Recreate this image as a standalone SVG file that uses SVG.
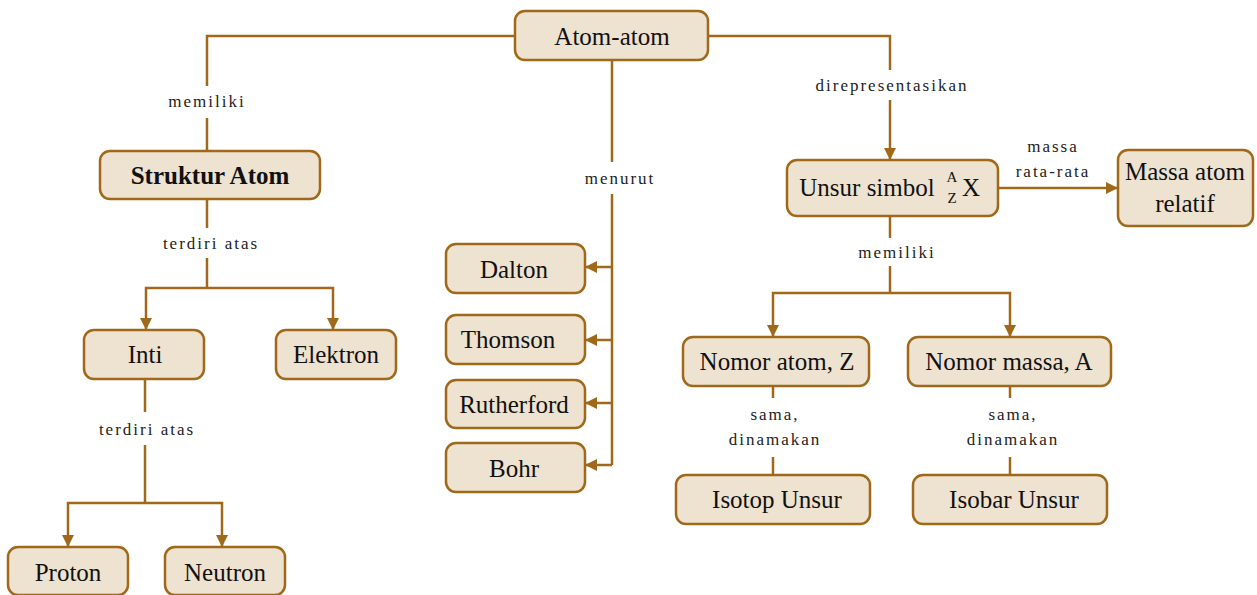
<svg xmlns="http://www.w3.org/2000/svg" width="1257" height="595" viewBox="0 0 1257 595">
<defs>
<marker id="ah" viewBox="0 0 12 12" refX="11" refY="6" markerWidth="12" markerHeight="12" markerUnits="userSpaceOnUse" orient="auto">
<path d="M0,0 L12,6 L0,12 Z" fill="#A0691A"/>
</marker>
<style>
.box{fill:#EEE2D0;stroke:#A0691A;stroke-width:2.5}
.t{font-size:25px;fill:#111;text-anchor:middle}
.b{font-weight:bold}
.l{font-size:17px;fill:#222;text-anchor:middle;letter-spacing:2px}
.c{fill:none;stroke:#A0691A;stroke-width:2.5}
.a{marker-end:url(#ah)}
.s{font-size:15px;fill:#111;text-anchor:middle}
</style>
</defs>
<rect width="1257" height="595" fill="#fff"/>
<g id="connectors">
<path class="c" d="M515,36 H207 V86"/>
<path class="c" d="M207,118 V150"/>
<path class="c" d="M708,36 H890 V70"/>
<path class="c a" d="M890,100 V159"/>
<path class="c" d="M612,60 V162"/>
<path class="c" d="M612,194 V465"/>
<path class="c a" d="M612,267 H586"/>
<path class="c a" d="M612,340 H586"/>
<path class="c a" d="M612,403 H586"/>
<path class="c a" d="M612,465 H586"/>
<path class="c" d="M207,199 V228"/>
<path class="c" d="M207,258 V288"/>
<path class="c a" d="M207,288 H146 V329"/>
<path class="c a" d="M207,288 H333 V329"/>
<path class="c" d="M145,379 V412"/>
<path class="c" d="M145,445 V503"/>
<path class="c a" d="M145,503 H68 V546"/>
<path class="c a" d="M145,503 H222 V546"/>
<path class="c a" d="M998,188 H1117"/>
<path class="c" d="M890,216 V238"/>
<path class="c" d="M890,266 V293"/>
<path class="c a" d="M890,293 H773 V336"/>
<path class="c a" d="M890,293 H1010 V336"/>
<path class="c" d="M773,386 V398"/>
<path class="c" d="M773,457 V476"/>
<path class="c" d="M1010,386 V398"/>
<path class="c" d="M1010,457 V476"/>
</g>
<g id="labels" font-family="Liberation Serif, serif">
<text class="l" x="207" y="107">memiliki</text>
<text class="l" x="892" y="91">direpresentasikan</text>
<text class="l" x="620" y="184">menurut</text>
<text class="l" x="211" y="249">terdiri atas</text>
<text class="l" x="147" y="435">terdiri atas</text>
<text class="l" x="1053" y="152">massa</text>
<text class="l" x="1053" y="177">rata-rata</text>
<text class="l" x="897" y="258">memiliki</text>
<text class="l" x="775" y="420">sama,</text>
<text class="l" x="775" y="445">dinamakan</text>
<text class="l" x="1013" y="420">sama,</text>
<text class="l" x="1013" y="445">dinamakan</text>
</g>
<g id="nodes" font-family="Liberation Serif, serif">
<g id="atom-atom"><rect class="box" x="515" y="11" width="193" height="49" rx="10"/><text class="t" x="612" y="45">Atom-atom</text></g>
<g id="struktur-atom"><rect class="box" x="100" y="151" width="220" height="48" rx="10"/><text class="t b" x="210" y="184">Struktur Atom</text></g>
<g id="inti"><rect class="box" x="84" y="330" width="120" height="49" rx="10"/><text class="t" x="145" y="363">Inti</text></g>
<g id="elektron"><rect class="box" x="276" y="330" width="120" height="49" rx="10"/><text class="t" x="336" y="363">Elektron</text></g>
<g id="proton"><rect class="box" x="8" y="547" width="120" height="48" rx="10"/><text class="t" x="68" y="581">Proton</text></g>
<g id="neutron"><rect class="box" x="165" y="547" width="120" height="48" rx="10"/><text class="t" x="225" y="581">Neutron</text></g>
<g id="dalton"><rect class="box" x="446" y="244" width="139" height="49" rx="10"/><text class="t" x="514" y="278">Dalton</text></g>
<g id="thomson"><rect class="box" x="446" y="315" width="139" height="49" rx="10"/><text class="t" x="508" y="348">Thomson</text></g>
<g id="rutherford"><rect class="box" x="446" y="380" width="139" height="48" rx="10"/><text class="t" x="514" y="413">Rutherford</text></g>
<g id="bohr"><rect class="box" x="446" y="443" width="139" height="49" rx="10"/><text class="t" x="514" y="477">Bohr</text></g>
<g id="unsur-simbol"><rect class="box" x="787" y="160" width="211" height="56" rx="10"/>
<text class="t" x="867" y="196">Unsur simbol</text>
<text class="s" x="952" y="182">A</text>
<text class="s" x="952" y="203">Z</text>
<text class="t" x="971" y="196">X</text></g>
<g id="massa-atom-relatif"><rect class="box" x="1118" y="150" width="135" height="76" rx="10"/><text class="t" x="1185" y="180">Massa atom</text><text class="t" x="1185" y="212">relatif</text></g>
<g id="nomor-atom"><rect class="box" x="683" y="337" width="186" height="49" rx="10"/><text class="t" x="777" y="370">Nomor atom, Z</text></g>
<g id="nomor-massa"><rect class="box" x="908" y="337" width="203" height="49" rx="10"/><text class="t" x="1009" y="370">Nomor massa, A</text></g>
<g id="isotop"><rect class="box" x="676" y="475" width="194" height="49" rx="10"/><text class="t" x="777" y="508">Isotop Unsur</text></g>
<g id="isobar"><rect class="box" x="913" y="475" width="194" height="49" rx="10"/><text class="t" x="1014" y="508">Isobar Unsur</text></g>
</g>
</svg>
